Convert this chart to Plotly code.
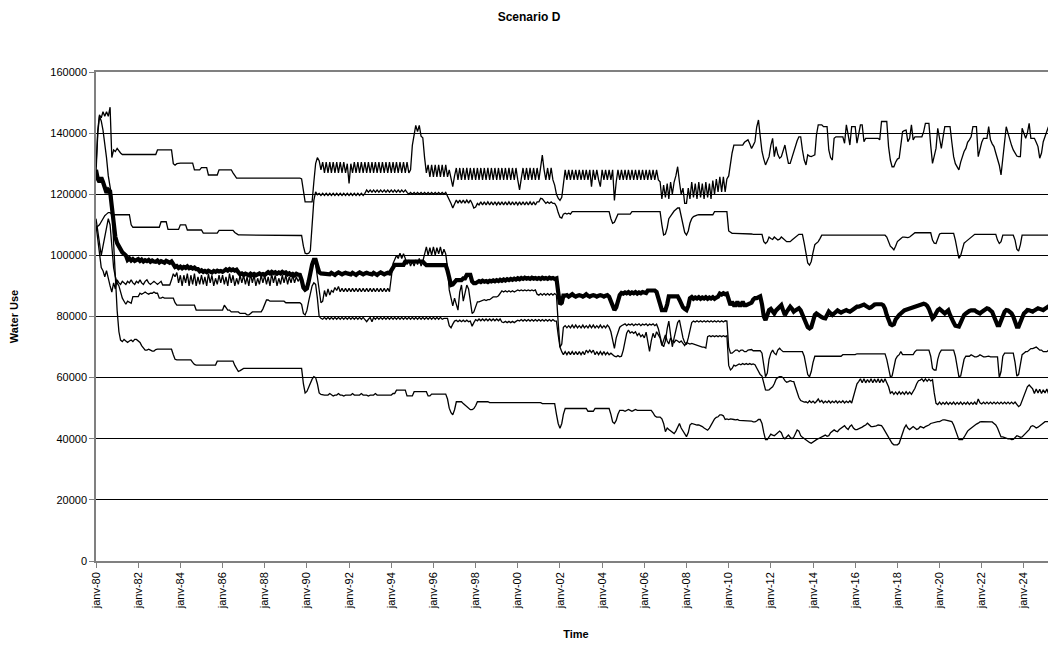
import pandas as pd
import plotly.graph_objects as go

# Monthly values (in thousands) from janv-80 onward, one row per year
top_k = [
    [129, 141, 146, 145, 147, 145.5, 147, 145.5, 148.5, 132, 134.5, 134],
    [135, 134, 133.5, 133, 133, 133, 132.8, 133, 133, 132.8, 133, 133],
    [133, 133, 133, 133, 133, 133, 133, 133, 133, 133, 133, 134.5],
    [134.5, 134.5, 134.5, 134.5, 134.5, 134.5, 134.5, 134.5, 130, 129.5, 130, 130.2],
    [130.2, 130.2, 130.2, 130.2, 130.2, 130.2, 130.2, 130.2, 128, 128, 128, 128],
    [128.7, 128.7, 128.7, 128.7, 126.3, 126.3, 126.3, 126.3, 126.3, 126.3, 128, 128],
    [128, 128, 128, 128, 128, 128, 127, 126, 125.3, 125.3, 125.3, 125.3],
    [125.3, 125.3, 125.3, 125.3, 125.3, 125.3, 125.3, 125.3, 125.3, 125.3, 125.3, 125.3],
    [125.3, 125.3, 125.3, 125.3, 125.3, 125.3, 125.3, 125.3, 125.3, 125.3, 125.3, 125.3],
    [125.3, 125.3, 125.3, 125.3, 125.3, 125.3, 125.3, 125.3, 125.3, 125, 121, 117.5],
    [117.5, 117.5, 117.5, 117.5, 124, 130, 132, 131, 128, 130.5, 127, 130.5],
    [127, 130.5, 127, 130.5, 127, 130.5, 127, 130.5, 127, 130.5, 127, 130],
    [123.5, 130, 127, 130.5, 127, 130.5, 127, 130.5, 127, 130.5, 127, 130.5],
    [127, 130.5, 127, 130.5, 127, 130.5, 127, 130.5, 127, 130.5, 127, 130.5],
    [127, 130.5, 127, 130.5, 127, 130.5, 127, 130.5, 127, 130.5, 127, 128],
    [136, 139, 142.5, 140.5, 142.5, 139, 138.5, 132, 127, 129.6, 125.7, 129.6],
    [125.7, 129.6, 125.7, 129.6, 125.7, 129.6, 125.7, 129.6, 125.7, 128, 125, 122.5],
    [126, 128.6, 124.7, 128.6, 124.7, 128.6, 124.7, 128.6, 124.7, 128.6, 124.7, 128.6],
    [124.7, 128.6, 124.7, 128.6, 124.7, 128.6, 124.7, 128.6, 124.7, 128.6, 124.7, 128.6],
    [124.7, 128.6, 124.7, 128.6, 124.7, 128.6, 124.7, 128.6, 124.7, 128.6, 124.7, 128.6],
    [124.7, 121.4, 125, 128.6, 124.7, 128.6, 124.7, 128.6, 124.7, 128.6, 124.7, 128.6],
    [124.7, 128.6, 132.8, 128, 124.7, 128.6, 124.7, 128.6, 124.7, 123, 120, 118.7],
    [118, 119, 124, 128, 124.7, 128, 124.7, 128, 124.7, 128, 124.7, 128],
    [124.7, 128, 124.7, 128, 124.7, 128, 122.5, 128, 124.7, 128, 124.7, 122.5],
    [128, 124.7, 128, 124.7, 128, 124.7, 128, 118, 124, 128, 124.7, 128],
    [124.7, 128, 124.7, 128, 124.7, 128, 124.7, 128, 124.7, 128, 124.7, 128],
    [124.7, 128, 124.7, 128, 124.7, 128, 124.7, 128, 124.7, 124.1, 118.5, 123],
    [119, 123.5, 118.5, 124, 120, 124, 126, 129, 124, 120, 122, 117],
    [117, 122, 118.5, 124, 119, 123.5, 118.5, 124, 119, 123.5, 118.5, 124],
    [119, 123.5, 118.5, 124.5, 120, 125, 120.8, 125.7, 120.8, 125.7, 120.8, 125],
    [126, 131, 133.5, 136.1, 136.1, 136.1, 136.1, 136.1, 136.1, 137, 137.5, 137.8],
    [136.5, 135, 136, 137.2, 142, 144.3, 139, 134, 131.5, 129.6, 131, 132.3],
    [136, 138.3, 132.3, 135.6, 133, 131.8, 132.3, 134, 136.1, 133, 130.1, 130.1],
    [132, 134.5, 135.6, 137.5, 138.8, 138.8, 134.5, 131.2, 129.6, 132.9, 132.5, 132.3],
    [132.6, 132.9, 139.4, 142.7, 142.7, 142.7, 142.1, 142.1, 142.1, 134.5, 132, 131.2],
    [138.3, 138.8, 138.8, 138.8, 138.8, 138.8, 136.7, 142.7, 139.5, 136.1, 142.1, 142.1],
    [142.1, 136.7, 139.5, 142.7, 142.7, 137.2, 138.3, 138.3, 138.3, 138.3, 138.3, 138.3],
    [138.3, 138.3, 137.8, 143.8, 143.8, 143.8, 143.8, 135.6, 131.2, 129, 129, 130.5],
    [131.5, 131.8, 136, 140.5, 140.8, 141, 137.2, 138.3, 142.7, 137.8, 138.8, 138.8],
    [138.8, 138.8, 138.8, 140.5, 143.2, 143.2, 143.2, 136, 130.1, 132.5, 135, 141.6],
    [138, 135, 138.5, 142.1, 142.1, 142.1, 142.1, 137, 132.3, 130, 129, 128],
    [130.5, 132.3, 134, 135, 137, 137.8, 138.8, 142.1, 142.1, 142.1, 132.3, 135],
    [137, 138.3, 138.3, 138.3, 142.1, 137.8, 136.5, 135.6, 133.5, 131.8, 129.5, 126.3],
    [132, 137.8, 142.1, 140, 137.8, 136, 134.5, 133.5, 132.5, 132.3, 132.3, 141.6],
    [140, 138.3, 140, 143.2, 138.3, 138.3, 138.3, 137, 135.6, 131.8, 133.5, 137.2],
    [139, 140.5, 142.1, 139, 134, 132.3],
]

second_k = [
    [109, 109.5, 110, 111, 112, 113, 113.5, 114, 114, 113.4, 113.3, 113.3],
    [113.3, 113.3, 113.3, 113.3, 113.3, 113.3, 113.3, 113.3, 110, 109.2, 109.2, 109.2],
    [109.2, 109.2, 109.2, 109.2, 109.2, 109.2, 109.2, 109.2, 109.2, 109.2, 109.2, 109.2],
    [109.2, 111, 111, 111, 111, 108.5, 108.5, 108.5, 108.5, 108.5, 108.5, 108.5],
    [110, 110, 110, 110, 108.3, 108.3, 108.3, 108.3, 108.3, 108.3, 108.3, 108.3],
    [108.3, 107.3, 107.3, 107.3, 107.3, 107.3, 107.3, 107.3, 107.3, 107.3, 108.2, 108.2],
    [108.2, 108.2, 108.2, 108.2, 108.2, 108.2, 108.2, 107.5, 107, 106.7, 106.7, 106.7],
    [106.7, 106.7, 106.7, 106.7, 106.7, 106.7, 106.7, 106.7, 106.7, 106.7, 106.7, 106.7],
    [106.7, 106.7, 106.7, 106.7, 106.7, 106.7, 106.7, 106.7, 106.7, 106.7, 106.7, 106.7],
    [106.7, 106.7, 106.7, 106.7, 106.7, 106.7, 106.7, 106.7, 106.7, 106.5, 103, 100.7],
    [100.5, 100.7, 101.5, 110, 118, 120.8, 119.8, 120.3, 119.6, 120.3, 119.6, 120.3],
    [119.6, 120.3, 119.6, 120.3, 119.6, 120.3, 119.6, 120.3, 119.6, 120.3, 119.6, 120.3],
    [119.6, 120.3, 119.6, 120.3, 119.6, 120.3, 119.6, 120.3, 119.6, 120.3, 121.4, 120.7],
    [121.4, 120.7, 121.4, 120.7, 121.4, 120.7, 121.4, 120.7, 121.4, 120.7, 121.4, 120.7],
    [121.4, 120.7, 121.4, 120.7, 121.4, 120.7, 121.4, 120.7, 121.4, 120.6, 120, 120.6],
    [120, 120.6, 120, 120.6, 120, 120.6, 120, 120.6, 120, 120.6, 120, 120.6],
    [120, 120.6, 120, 120.6, 120, 120.6, 120, 120.6, 119.5, 118, 117, 115.5],
    [117.1, 118.1, 117.1, 118.1, 117.1, 118.1, 117.1, 118.1, 117.1, 118.1, 117, 115.5],
    [115.8, 117, 116.5, 117.5, 116.5, 117.5, 116.5, 117.5, 116.5, 117.5, 116.5, 117.5],
    [116.5, 117.5, 116.5, 117.5, 116.5, 117.5, 116.5, 117.5, 116.5, 117.5, 116.5, 117.5],
    [116.5, 117.5, 116.5, 117.5, 116.5, 117.5, 116.5, 117.5, 116.5, 117.5, 116.5, 117.5],
    [117.5, 118.7, 118.5, 117.5, 117, 117.5, 117, 117.5, 117, 117, 116, 114],
    [112.5, 112.2, 113.5, 113.8, 113.5, 113.8, 113.5, 114.3, 114.3, 114.3, 114.3, 114.3],
    [114.3, 114.3, 114.3, 114.3, 114.3, 114.3, 114.3, 114.3, 114.3, 114.3, 114.3, 114.3],
    [114.3, 114.3, 114.3, 114.3, 114.3, 112, 110.5, 110.8, 112, 113.5, 113.5, 113.5],
    [113.5, 113.5, 113.5, 113.5, 113.5, 114.3, 114.3, 114.3, 114.3, 114.3, 114.3, 114.3],
    [114.3, 114.3, 114.3, 114.3, 114.3, 114.3, 114.3, 114.3, 114.3, 114.3, 110, 106.7],
    [107, 109, 112, 113, 113.8, 114.5, 115, 115.5, 115.5, 113, 110, 107.5],
    [106.7, 108, 110.5, 112, 112.7, 113, 113.2, 113.3, 113.3, 113.3, 113.3, 113.3],
    [113.3, 113.3, 113.3, 113.3, 114.3, 114.3, 114.3, 114.3, 114.3, 114.3, 114.3, 114.3],
    [108, 107.5, 107.2, 107.2, 107.2, 107.2, 107.2, 107.2, 107.2, 107.2, 107.2, 107.2],
    [107, 107, 106.9, 106.9, 106.9, 106.9, 106.9, 106.9, 104.5, 103.9, 104.5, 106],
    [105.5, 105.2, 106, 105.5, 105, 105.3, 106, 105.5, 105, 104.5, 104.5, 104.5],
    [105, 105.5, 106, 106.5, 106.9, 106.9, 106.9, 104, 100, 97.5, 96.8, 98],
    [101, 103.5, 104, 104.5, 105.5, 106.6, 106.6, 106.6, 106.6, 106.6, 106.6, 106.6],
    [106.6, 106.8, 106.6, 106.6, 106.8, 106.6, 106.6, 106.8, 106.6, 106.6, 106.8, 106.6],
    [106.6, 106.8, 106.6, 106.6, 106.8, 106.6, 106.6, 106.8, 106.6, 106.6, 106.8, 106.6],
    [106.6, 106.6, 106.6, 106.6, 106.6, 106.6, 106, 104.5, 103, 102.5, 101.8, 103],
    [104.5, 105, 105.5, 106, 106, 105.8, 105.8, 106, 106.5, 107, 107.4, 107.4],
    [107.4, 107.4, 107.4, 107.4, 107.4, 107.4, 107.4, 107.4, 105, 104, 103.9, 105.5],
    [107, 107.2, 107.2, 107.2, 107.2, 107.2, 107.2, 107.2, 107.2, 105, 102, 99],
    [100, 102.5, 104, 104.5, 105, 105.5, 106, 106.5, 106.9, 106.9, 106.9, 106.9],
    [106.9, 106.9, 106.9, 106.9, 106.9, 106.9, 106.9, 106.9, 106.9, 105, 103.9, 104.5],
    [106.6, 106.6, 106.6, 106.6, 106.6, 106.6, 106.6, 105, 102, 101.4, 103.5, 106.6],
    [106.6, 106.6, 106.6, 106.6, 106.6, 106.6, 106.6, 106.6, 106.6, 106.6, 106.6, 106.6],
    [106.6, 106.6, 106.6, 106.6, 106.6, 105],
]

mean_k = [
    [128, 125, 124, 125.5, 124, 121.5, 120.5, 121.5, 121, 116, 111, 106],
    [104, 102.8, 101.7, 101, 100.5, 100, 98.5, 99, 98.3, 98.8, 98.2, 98.6],
    [98.8, 98.2, 98.6, 98, 98.4, 98.1, 98.5, 97.9, 98.3, 98, 97.9, 98.3],
    [97.7, 98.1, 97.8, 97.6, 98.2, 97.8, 97.6, 98, 96.8, 96.2, 96.5, 95.9],
    [96.3, 95.8, 96.2, 95.9, 96.4, 95.8, 96.1, 95.7, 96, 95.5, 95.5, 94.8],
    [95.1, 94.6, 94.9, 94.5, 95, 94.7, 94.4, 94.9, 94.6, 95, 94.7, 94.9],
    [94.6, 95, 95.4, 95, 95.5, 95.1, 95.4, 95, 95.3, 94.5, 93.8, 94.1],
    [93.6, 94, 93.7, 93.5, 94, 93.6, 93.9, 93.5, 93.8, 94.1, 93.7, 93.9],
    [93.6, 94, 94.5, 94.1, 94.6, 94.2, 94.5, 94, 94.4, 94.1, 94.6, 94.2],
    [94.4, 93.8, 94.1, 93.6, 93.9, 93.5, 94, 93.7, 93.6, 92, 89.5, 88.8],
    [89.2, 91.5, 94.5, 97, 98.5, 98.5, 96.5, 94.5, 94.1, 94.1, 94.1, 94.1],
    [94.1, 93.8, 94.3, 94.1, 93.6, 94.1, 94.4, 94.1, 93.8, 94.1, 94.3, 94.1],
    [94.1, 93.8, 94.3, 94.1, 93.6, 94.1, 94.4, 94.1, 93.8, 94.1, 94.3, 94.1],
    [94.1, 93.8, 94.3, 94.1, 93.6, 94.1, 94.4, 94.1, 93.8, 94.1, 94.3, 94.1],
    [95, 96.3, 96.9, 96.9, 96.9, 96.9, 96.9, 96.9, 98, 98, 98, 98],
    [98, 98, 98, 98, 98, 98, 98, 97.3, 96.8, 96.8, 96.8, 96.8],
    [96.8, 96.8, 96.8, 96.8, 96.8, 96.8, 96.8, 96.8, 95, 92, 90.3, 90.5],
    [91, 91.9, 91.9, 91.9, 91.9, 92.5, 92.5, 93.6, 93.6, 93.6, 91.5, 90.9],
    [90.9, 91.2, 91.6, 91.3, 91.7, 91.4, 91.6, 91.3, 91.7, 91.5, 91.8, 91.5],
    [91.9, 91.6, 92, 91.7, 92.1, 91.8, 92.2, 91.9, 92.3, 92, 92.4, 92.1],
    [92.5, 92.2, 92.6, 92.3, 92.7, 92.4, 92.6, 92.3, 92.7, 92.4, 92.6, 92.3],
    [92.6, 92.3, 92.7, 92.4, 92.6, 92.3, 92.7, 92.4, 92.6, 92.3, 92.5, 88],
    [84, 84.5, 86.8, 86.8, 87, 86.5, 86.8, 87.3, 86.8, 86.5, 86.8, 87],
    [86.8, 86.5, 86.8, 87.3, 86.8, 86.5, 86.8, 87, 86.8, 86.5, 86.8, 87],
    [86.8, 86.5, 86.8, 87, 86.5, 85, 83, 82.1, 83, 85.5, 87, 87.7],
    [87.5, 87.9, 87.6, 88, 87.5, 87.9, 87.6, 88, 87.5, 87.9, 87.6, 88],
    [87.7, 87.7, 88.5, 88.5, 88.5, 88.5, 88.5, 88, 86, 83.5, 82.1, 82.1],
    [82.1, 84, 86.6, 86.6, 86.6, 86.6, 86.6, 86.6, 85.5, 84, 83, 82.5],
    [82.1, 83.5, 86, 86.4, 85.8, 86.2, 85.9, 86.3, 85.8, 86.2, 85.9, 86.3],
    [85.8, 86.2, 85.9, 86.3, 85.8, 86.2, 86.5, 87.5, 87.2, 87.6, 87.3, 87.5],
    [85, 83.7, 84.8, 83.7, 83.7, 84.8, 83.7, 83.7, 84.8, 83.7, 83.7, 84],
    [84, 84.5, 85.5, 86, 86, 86.5, 86.6, 84, 80, 78.8, 80.5, 82.1],
    [82.5, 81.5, 81, 82, 82.7, 83.2, 83.7, 82, 80.5, 81.5, 82.5, 83.2],
    [82.5, 81.6, 82, 82.5, 82.7, 82, 80.5, 79, 77.5, 76.5, 76.1, 76.5],
    [78.5, 80.5, 81, 80.5, 80, 79.8, 79.5, 79.4, 80.5, 81.6, 81, 80.5],
    [81, 81.5, 82, 81.6, 81.3, 81.6, 82, 82.1, 81.8, 81.6, 82, 82.5],
    [83, 83.2, 83.2, 83.5, 83.7, 83.9, 83.5, 83, 82.8, 83, 83.5, 83.9],
    [84, 84.1, 84.2, 84, 83.7, 82.5, 80.5, 78.5, 77.5, 77.2, 77.5, 79],
    [80, 80.5, 81, 81.6, 82, 82.2, 82.4, 82.6, 82.7, 83, 83.3, 83.5],
    [83.7, 84, 84.2, 84.2, 84, 83.5, 82.5, 81, 79.4, 80, 81.5, 82.1],
    [82.5, 82, 81.5, 81, 81.5, 82, 80.5, 79, 78, 77, 76.7, 76.7],
    [78, 79.5, 80.5, 81, 81.6, 81.8, 82, 82.1, 82, 81.6, 81.3, 81],
    [81.5, 82, 82.5, 82.7, 82.5, 82, 81.5, 80, 78.5, 77.2, 77.2, 78.5],
    [80.5, 81.6, 82.1, 82, 81.5, 81, 80, 78.5, 76.7, 76.7, 78, 80],
    [81, 81.5, 82.1, 82, 81.8, 81.6, 82, 82.3, 82.7, 82.5, 82.2, 82.1],
    [82.5, 83, 83.5, 83.7, 83.7, 83.5],
]

fourth_k = [
    [110, 105, 100, 96, 95, 93, 95, 92, 90, 88, 91, 89],
    [92, 91, 90.5, 91.5, 91, 90.5, 91.5, 91, 92, 91, 90.5, 91.5],
    [91, 92, 91, 90.5, 91.5, 92, 91, 90.5, 91, 91.5, 91, 90.5],
    [91, 91.5, 90.3, 90.3, 90.3, 90.5, 90.3, 92, 94, 93, 94.4, 91],
    [93.5, 90, 93.5, 91, 94, 90, 93.5, 90.5, 94, 90, 93, 90.5],
    [93.5, 90.5, 93, 90, 94, 91, 93.5, 90, 92.5, 90.5, 93.5, 91],
    [93.5, 90.5, 93, 90, 94, 91, 93.5, 90, 92.5, 90.5, 93.5, 91],
    [93.5, 90.5, 93, 90, 94, 91, 93.5, 90, 92.5, 90.5, 93.5, 91],
    [93.5, 90.5, 93, 90, 94, 91, 93.5, 90, 92.5, 90.5, 93.5, 91],
    [93.5, 90.5, 93, 91, 93.5, 91, 93, 91.5, 92.5, 92, 89, 88.5],
    [89, 92, 95, 97, 98.5, 97, 93, 88, 84.5, 85, 88.5, 86.5],
    [89, 87, 88.5, 88, 89.5, 88.5, 89.8, 88.1, 89.2, 88.1, 89.2, 88.1],
    [89.2, 88.1, 89.2, 88.1, 89.2, 88.1, 89.2, 88.1, 89.2, 88.1, 89.2, 88.1],
    [89.2, 88.1, 89.2, 88.1, 89.2, 88.1, 89.2, 88.1, 89.2, 88.1, 89.2, 88.1],
    [92, 97.4, 98.6, 100, 99, 100.7, 99, 100.5, 99, 97, 98.5, 96.5],
    [98, 96.5, 98.5, 97, 99, 96.5, 98, 100.5, 102.8, 100.1, 102.5, 100.1],
    [102.8, 100.1, 102.5, 100.5, 102.8, 100.1, 102, 100.5, 96, 88.7, 85.4, 83.5],
    [86, 84, 82.1, 88, 90.3, 85, 88, 90.3, 89, 85, 81, 81.5],
    [83.5, 84.8, 84.8, 85, 85.2, 85.5, 85.2, 85.5, 85.5, 86, 86.4, 86.4],
    [86.4, 86.8, 87.4, 88.4, 88, 88.4, 88, 88.4, 88, 88.4, 88, 88.4],
    [88.7, 88.4, 88.7, 88.4, 88.7, 88.4, 88.7, 88.4, 88.7, 88.4, 88.7, 87.3],
    [87, 87.5, 87, 87.5, 87, 87.5, 87, 87.5, 87, 87.5, 87, 78],
    [70, 68.5, 67.5, 68.5, 67.5, 68.5, 67.5, 68.5, 67.5, 68.5, 67.5, 68.5],
    [67.5, 68.5, 67.5, 69, 68.2, 69, 68.2, 69, 67.5, 68.5, 67.5, 68.5],
    [67.5, 68.5, 67.5, 68.3, 67.5, 68, 67.5, 67, 66.8, 67.2, 66.8, 67],
    [69, 72, 74.5, 75.6, 74.6, 75, 74.5, 75, 73.8, 74.5, 73.4, 74],
    [73, 74.9, 72, 68.6, 72, 74.5, 73, 75, 74, 73, 70.5, 72],
    [74, 72, 71, 73, 72, 71.5, 72.3, 72, 71.5, 72, 71, 70.5],
    [71.5, 71.2, 71, 71.2, 71, 70.8, 70.5, 70.5, 70.3, 70, 70, 69.7],
    [73.4, 73.7, 73.4, 73.7, 73.4, 73.7, 73.4, 73.7, 73.4, 73.7, 73.4, 73.7],
    [64, 62.5, 63, 64.1, 63.8, 64.3, 64.5, 64.2, 64.6, 64.3, 64.6, 64.3],
    [64.6, 64.3, 64.5, 64.2, 63, 62, 61, 60.5, 58, 56, 55.9, 56],
    [56.5, 57, 58, 59.5, 60, 60.3, 60.3, 60, 59, 58.5, 58.7, 59],
    [58.8, 58.7, 57, 55, 53.5, 52.5, 52.2, 52, 52.1, 51.7, 52.4, 51.8],
    [52.3, 51.7, 52.2, 53, 52, 52.5, 51.7, 52.3, 51.8, 52.4, 51.7, 52.3],
    [51.8, 52.4, 51.7, 52.3, 51.8, 52.4, 51.7, 52.3, 51.8, 52.4, 51.7, 54],
    [56, 58, 58.7, 59.6, 58.3, 59.6, 58.3, 59.4, 58.4, 59.6, 58.3, 59.5],
    [58.4, 59.6, 58.3, 59.5, 58.4, 59.6, 58.3, 57, 54.9, 55.4, 54.5, 55.3],
    [54.5, 55.4, 54.6, 55.3, 54.5, 55.4, 54.6, 55.3, 54.5, 55.4, 56.5, 58],
    [59, 59.2, 59.6, 58.8, 59.6, 58.8, 59.5, 58.9, 59.3, 55, 51.6, 51.2],
    [52, 51.2, 51.9, 51.3, 52, 51.2, 51.9, 51.3, 52, 51.2, 51.9, 51.3],
    [52, 51.2, 51.9, 51.3, 52, 51.2, 51.9, 51.3, 52, 51.2, 53, 51.8],
    [51.4, 52, 51.4, 52, 51.4, 52, 51.4, 52, 51.4, 52, 51.4, 52],
    [51.4, 52, 51.4, 52, 51.4, 52, 51.4, 52, 51.4, 50.5, 51, 52.5],
    [54, 56, 57, 57.6, 57, 56.3, 54.8, 56.3, 55, 56.2, 54.8, 56],
    [55, 56.3, 54.8, 56, 55.2, 56],
]

fifth_k = [
    [112, 108, 103, 100, 103, 106, 108, 112, 110, 102, 96, 93],
    [91, 90, 88, 86, 85, 84, 85, 84.5, 84.3, 86.5, 86.5, 86.5],
    [86.5, 87.6, 87.3, 87.6, 88, 87.6, 87.3, 87.6, 87.6, 88, 87.6, 87.6],
    [86, 86, 86.3, 86, 86, 86, 85.8, 86, 86, 84.5, 83.7, 83.7],
    [83.7, 83.7, 83.7, 83.7, 83.7, 83.7, 83.7, 83.7, 83.7, 82.1, 82.1, 82.1],
    [82.1, 82.1, 82.1, 82.1, 82.1, 82.1, 82.1, 82.1, 82.1, 82.1, 82.1, 82.1],
    [82.1, 83.7, 83, 82.1, 82.1, 81.5, 81.5, 81.5, 81.5, 81.5, 81, 81],
    [81, 81, 80.5, 80.5, 81, 81.5, 81.5, 81.5, 81.5, 81.5, 81.5, 82.5],
    [84, 85.4, 85.4, 85, 85, 85, 85, 85, 85, 85, 85, 85],
    [84.5, 84.5, 84.5, 84.5, 84.5, 84.5, 84.5, 84.5, 84.5, 84, 81, 80.5],
    [82, 85, 88, 90, 91, 90.5, 86, 80, 79.4, 79.1, 79.7, 79.1],
    [79.7, 79.1, 79.7, 79.1, 79.7, 79.1, 79.7, 79.1, 79.7, 79.1, 79.7, 79.1],
    [79.7, 79.1, 79.7, 79.1, 79.7, 79.1, 79.7, 79.1, 79.7, 79.1, 78.3, 79.1],
    [79.7, 78.3, 79.7, 79.1, 79.7, 79.1, 79.7, 79.1, 79.7, 79.1, 79.7, 79.1],
    [79.7, 79.1, 79.7, 79.1, 79.7, 79.1, 79.7, 79.1, 79.7, 79.1, 79.7, 79.1],
    [79.7, 79.1, 79.7, 79.1, 79.7, 79.1, 79.7, 79.1, 79.7, 79.1, 79.7, 79.1],
    [79.7, 79.1, 79.7, 79.1, 79.7, 79.1, 79.4, 79.4, 79.4, 77, 76.3, 77.5],
    [78.5, 78.8, 78.3, 78.8, 78.3, 78.8, 78.3, 78.8, 78.3, 78.5, 76.8, 78],
    [79, 78.6, 79.2, 78.6, 79.2, 78.6, 79.2, 78.6, 79.2, 78.6, 79.2, 78.6],
    [79.2, 78.6, 79.2, 78.2, 78, 78.4, 78, 78.4, 78, 78.4, 78, 78.4],
    [78.8, 78.5, 79, 78.5, 79, 78.5, 79, 78.5, 79, 78.5, 79, 78.5],
    [79, 78.5, 79, 78.5, 79, 78.5, 79, 78.5, 79, 78.5, 78.5, 74],
    [70, 71, 76.5, 77, 76.3, 77, 76.3, 77.2, 76.3, 77.2, 76.3, 77],
    [76.3, 77.2, 76.3, 77, 76.3, 77.2, 76.3, 77.2, 76.3, 77, 76.3, 77.2],
    [76.3, 77, 76.3, 77.2, 76.5, 75, 72, 69.6, 73, 75, 76.5, 77],
    [77.2, 77.6, 77, 77.5, 77.2, 77.6, 77, 77.5, 77.2, 77.6, 77, 77.5],
    [77.2, 77.6, 77, 77.5, 77.2, 77.6, 77, 77.5, 76, 73, 71, 70.1],
    [72, 76, 78.5, 74, 70.1, 73, 76, 78, 78.8, 76, 73, 71.5],
    [70.8, 73, 76, 78, 78.5, 78.2, 78.6, 78.2, 78.6, 78.2, 78.6, 78.2],
    [78.6, 78.2, 78.6, 78.2, 78.6, 78.2, 78.6, 78.2, 78.6, 78.2, 78.6, 78.5],
    [70, 68, 68, 68.5, 69, 69, 68.5, 69, 69, 68.5, 68.5, 69],
    [69, 69.2, 68.8, 68.8, 68.8, 68.8, 68.8, 68, 64, 60.3, 61.5, 66],
    [68, 69, 68, 67.5, 69, 69.6, 69, 68.5, 68.5, 68.5, 68.5, 68.5],
    [68.5, 68.5, 68.5, 68.5, 68.5, 68.5, 68.5, 67, 64, 61, 60.3, 62],
    [65, 67, 67, 67, 67, 67, 67, 67, 67, 67, 67, 67],
    [67, 67, 67, 67, 67, 67.5, 67.5, 67.5, 67.5, 67.5, 67.5, 67.5],
    [67.5, 67.8, 67.8, 67.8, 67.8, 67.8, 67.8, 67.8, 67.8, 67.8, 67.8, 67.8],
    [67.8, 67.8, 67.8, 67.8, 67.8, 67.8, 66, 63, 60.3, 60.5, 63, 66],
    [67, 67.5, 68.5, 67.5, 67.5, 67.5, 67.5, 67.5, 67.5, 67.5, 68.5, 69],
    [69, 69, 69, 69, 69, 69, 69, 67, 63, 62.5, 62.5, 66],
    [68, 69, 69, 69, 69, 69, 69, 69, 69, 67, 63, 60.3],
    [60.5, 64, 66, 67, 67, 67, 67.5, 67, 66.8, 66.8, 67, 67.5],
    [67, 66.8, 66.8, 67, 67, 66.8, 66.8, 67, 67, 66.8, 60, 62],
    [67, 68, 68, 68, 68, 68, 68, 65, 60.5, 61, 65, 67.5],
    [68, 68.5, 68.5, 69, 69.5, 69.5, 69.8, 70, 69.5, 69, 69, 68.5],
    [68.5, 68.5, 69, 69, 68.5, 68.5],
]

bottom_k = [
    [127, 140, 145.5, 144, 141, 137, 132, 126, 122, 119, 104, 92],
    [82, 75, 72.3, 71.8, 72.5, 72, 71.5, 72, 72.3, 71.8, 72.5, 72.5],
    [72, 71.5, 70.5, 69.5, 69, 69, 69.3, 69, 68.7, 68.7, 69.2, 69.3],
    [69.2, 69.3, 69.3, 69.3, 69.3, 69.3, 69.3, 69.3, 67.5, 66, 65.8, 65.8],
    [65.8, 65.8, 65.8, 65.8, 65.8, 65.8, 65.8, 65, 64.3, 64.1, 64.1, 64.1],
    [64.1, 64.1, 64.1, 64.1, 64.1, 64.1, 64.1, 64.1, 64.1, 65.4, 65.4, 65.4],
    [65.4, 65.4, 65.4, 65.4, 65.4, 65.4, 65.4, 64, 63, 62, 62.3, 62.8],
    [63, 63, 63, 63, 63, 63, 63, 63, 63, 63, 63, 63],
    [63, 63, 63, 63, 63, 63, 63, 63, 63, 63, 63, 63],
    [63, 63, 63, 63, 63, 63, 63, 63, 63, 63, 58, 55],
    [55.5, 57, 58.5, 59.5, 60.3, 60, 58, 55, 54.5, 54.3, 54.3, 54.3],
    [54.3, 54.8, 54.3, 54, 54.3, 54.3, 54.8, 54.3, 54.3, 54, 54.3, 54.3],
    [54.3, 54.3, 54.8, 54.3, 54.3, 54.3, 54.3, 54.8, 54.3, 54.3, 54.3, 54],
    [54.3, 54.3, 54.3, 54.8, 54.3, 54.3, 54.3, 54.3, 54.5, 54.3, 54.3, 54.3],
    [54.3, 54.8, 54.8, 55.9, 55.9, 55.9, 55.9, 55.9, 55.9, 54, 54, 54],
    [54, 55.4, 55.4, 55.4, 55.4, 55.4, 55.4, 55.4, 55.4, 54, 54, 54.6],
    [54.6, 54.6, 54.6, 54.6, 54.6, 54.6, 54.6, 54.6, 53, 50, 48.5, 47.8],
    [49.5, 52.1, 52.1, 52.1, 52.1, 51.5, 51, 50.5, 50, 49.5, 49.5, 49.9],
    [50.8, 52.1, 52.1, 52.1, 52.1, 52.1, 52.1, 52.1, 51.8, 51.8, 51.8, 51.8],
    [51.8, 51.8, 51.8, 51.8, 51.8, 51.8, 51.8, 51.8, 51.8, 51.8, 51.8, 51.8],
    [51.8, 51.8, 51.8, 51.8, 51.8, 51.8, 51.8, 51.8, 51.8, 51.8, 51.8, 51.8],
    [51.8, 51.8, 51.5, 51.5, 51.5, 51.5, 51.5, 51.5, 51.5, 51.5, 48, 45],
    [43.4, 45, 48, 49.9, 49.9, 49.9, 49.9, 49.9, 49.9, 49.9, 49.9, 49.9],
    [49.9, 49.9, 49.9, 49.9, 49, 49, 49, 49, 49.9, 49.9, 49.9, 49.9],
    [49.9, 49.9, 49.9, 49.9, 49.9, 48, 45.5, 45, 46, 48, 49.3, 49.3],
    [49.3, 49, 49.3, 49.6, 49.3, 49, 49.3, 49.6, 49.3, 49.3, 49.3, 49.3],
    [49.3, 49.3, 49.3, 49.3, 49.3, 48.5, 47.5, 47.1, 47.1, 47.1, 46.5, 45],
    [42.3, 43.5, 43, 42.5, 42, 41.7, 42.5, 44, 45, 43.5, 42.5, 41.5],
    [40.7, 42, 44.5, 45, 44.8, 44.5, 44.5, 44.5, 44.3, 44, 43.5, 43],
    [42.8, 43.5, 44.5, 45.5, 46.5, 47, 47.2, 47.8, 47.8, 47.5, 46.3, 46.5],
    [46.3, 46.5, 46.5, 46.3, 46.2, 46.3, 46, 46, 45.8, 45.8, 45.8, 45.8],
    [45.8, 45.8, 45.5, 45.5, 45.8, 46.3, 46.3, 45, 42, 39.7, 39.7, 40.5],
    [41.5, 41.2, 41, 41.5, 42, 42.5, 42, 40.5, 40, 40.7, 41.2, 40.5],
    [40, 40.5, 41.5, 42.9, 42.5, 41, 40.5, 40, 39.5, 39, 38.8, 38.5],
    [39, 39.5, 39.7, 40, 40.3, 40.5, 40.8, 41.2, 40.8, 41, 42, 42.5],
    [42.9, 42.5, 42.3, 43, 43.5, 44, 44.3, 43.5, 43, 44, 44.5, 43.5],
    [43, 43, 43.2, 43.5, 43.8, 44.2, 44.5, 45.1, 44.5, 44, 44, 44],
    [44.2, 44.5, 44.5, 44.3, 43.5, 42.5, 41.2, 40.1, 39.5, 38.5, 38, 38],
    [38, 38.5, 40, 42, 43.5, 44.5, 43.5, 43, 43.5, 44, 43.5, 43],
    [43.3, 44, 43.8, 43.5, 44, 44.2, 44.5, 45, 45.2, 45.4, 45.6, 45.6],
    [45.6, 46, 46.2, 46.2, 46, 45.8, 45.8, 45.6, 44.5, 43, 41.5, 39.7],
    [39.7, 39.7, 40.5, 41.5, 42.5, 43, 43.5, 44, 44.5, 44.8, 45.1, 45.5],
    [45.6, 45.6, 45.6, 45.6, 45.6, 45.6, 45.5, 45, 44.5, 43.5, 42, 40.6],
    [40.6, 40.3, 40.1, 40, 40, 39.7, 39.8, 40.5, 41, 40.8, 40.5, 40.6],
    [41.2, 42, 42.5, 43, 44, 44.3, 44, 43.5, 43.8, 44.2, 44.5, 45],
    [45.6, 45.6, 45.6, 45.6, 45.5, 45.3],
]

tick_labels = ["janv-80", "janv-82", "janv-84", "janv-86", "janv-88", "janv-90",
               "janv-92", "janv-94", "janv-96", "janv-98", "janv-00", "janv-02",
               "janv-04", "janv-06", "janv-08", "janv-10", "janv-12", "janv-14",
               "janv-16", "janv-18", "janv-20", "janv-22", "janv-24"]
y_ticks = [0, 20000, 40000, 60000, 80000, 100000, 120000, 140000, 160000]


def flatten(rows):
    out = []
    for r in rows:
        out.extend(r)
    return [v * 1000 for v in out]


thin_series = [top_k, second_k, fourth_k, fifth_k, bottom_k]
fig = go.Figure()
for rows in thin_series:
    vals = flatten(rows)
    dates = pd.date_range("1980-01-01", periods=len(vals), freq="MS")
    fig.add_trace(go.Scatter(x=dates, y=vals, mode="lines",
                             line=dict(color="black", width=1.3),
                             showlegend=False, hoverinfo="skip"))
mvals = flatten(mean_k)
mdates = pd.date_range("1980-01-01", periods=len(mvals), freq="MS")
fig.add_trace(go.Scatter(x=mdates, y=mvals, mode="lines",
                         line=dict(color="black", width=4.2),
                         showlegend=False, hoverinfo="skip"))

tickvals = [f"{1980 + 2 * i}-01-01" for i in range(len(tick_labels))]

# The page body adds an 8px offset; the figure is sized so nothing overflows.
FONT = "Arial, Liberation Sans, sans-serif"
W, H = 1048, 632
fig.update_layout(
    width=W, height=H,
    margin=dict(l=88, r=0, t=64, b=79),
    paper_bgcolor="white", plot_bgcolor="white",
    font=dict(family=FONT, color="black", size=11),
    title=dict(text="<b>Scenario D</b>", x=521 / W, xref="container", xanchor="center",
               y=1 - 9 / H, yref="container", yanchor="middle",
               font=dict(size=12, family=FONT, color="black")),
)
fig.update_xaxes(
    type="date", range=["1980-01-01", "2025-07-10"],
    tickmode="array", tickvals=tickvals, ticktext=tick_labels,
    tickangle=-90, tickfont=dict(size=11),
    ticks="outside", ticklen=5, tickcolor="#808080",
    showgrid=False, showline=True, linecolor="#808080", linewidth=1.5, mirror=True,
    zeroline=False,
    title=dict(text="<b>Time</b>", font=dict(size=11), standoff=24),
)
fig.update_yaxes(
    range=[0, 160000], tickmode="array", tickvals=y_ticks, tickformat="d",
    tickfont=dict(size=11),
    ticks="outside", ticklen=5, tickcolor="#808080",
    showgrid=True, gridcolor="black", gridwidth=1,
    showline=True, linecolor="#808080", linewidth=1.5, zeroline=False,
    title=dict(text="<b>Water Use</b>", font=dict(size=11), standoff=29),
)

fig.write_html("out.html", default_width=f"{W}px", default_height=f"{H}px")
